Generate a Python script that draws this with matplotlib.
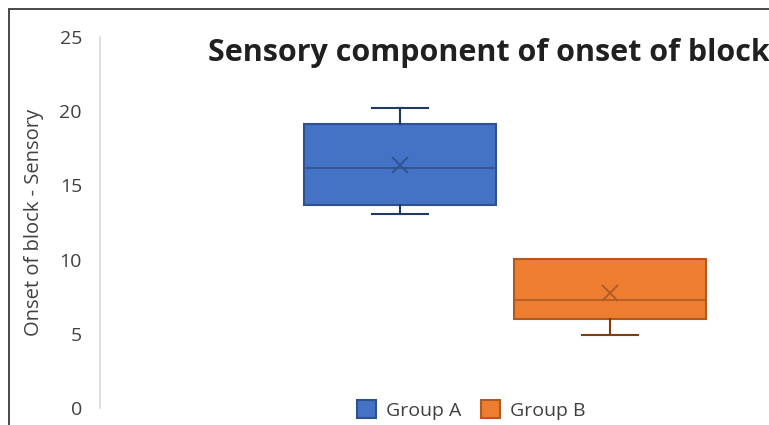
import matplotlib.pyplot as plt
from matplotlib.patches import Rectangle

plt.rcParams['font.family'] = ['Open Sans', 'DejaVu Sans']

groups = ['Group A', 'Group B']
whisker_lo = [13.1, 4.9]
q1 = [13.7, 6.0]
median = [16.15, 7.3]
q3 = [19.15, 10.05]
whisker_hi = [20.2, 10.05]
mean = [16.35, 7.75]

face = ['#4472C4', '#ED7D31']
edge = ['#2F528F', '#AE5A21']
dark = ['#203864', '#843C0C']

fig = plt.figure(figsize=(7.69, 4.25), dpi=100)
ax = fig.add_axes([100 / 769, 17 / 425, 1 - 100 / 769, (408 - 37) / 425])

for i, g in enumerate(groups):
    stats = [dict(label=g, whislo=whisker_lo[i], q1=q1[i], med=median[i],
                  q3=q3[i], whishi=whisker_hi[i], mean=mean[i])]
    parts = ax.bxp(stats, positions=[i + 1], widths=0.91, capwidths=0.27,
                   showmeans=True, showfliers=False, patch_artist=True,
                   boxprops=dict(facecolor=face[i], edgecolor=edge[i], linewidth=1.5),
                   medianprops=dict(color=edge[i], linewidth=1.2),
                   whiskerprops=dict(color=dark[i], linewidth=1.5),
                   capprops=dict(color=dark[i], linewidth=1.5),
                   meanprops=dict(marker='x', markeredgecolor=edge[i], markersize=12,
                                  markeredgewidth=1.3))
    # no whisker when the max sits on the box edge
    if whisker_hi[i] <= q3[i]:
        parts['caps'][1].set_visible(False)
        parts['whiskers'][1].set_visible(False)

ax.set_xlim(1 - 300 / 210, 2 + 159 / 210)
ax.set_ylim(0, 25)
ax.set_yticks([0, 5, 10, 15, 20, 25])
ax.set_xticks([])
ax.tick_params(axis='y', length=0, labelsize=14, labelcolor='#404040', pad=13)
for s in ['top', 'right', 'bottom']:
    ax.spines[s].set_visible(False)
ax.spines['left'].set_color('#D9D9D9')
ax.spines['left'].set_linewidth(1.2)
ax.set_ylabel('Onset of block - Sensory', fontsize=14.5, color='#404040', labelpad=11)

fig.text(208 / 769, 1 - 53 / 425, 'Sensory component of onset of block',
         fontsize=22, fontweight='bold', color='#202020', va='center', ha='left')

handles = [Rectangle((0, 0), 1, 1, facecolor=face[i], edgecolor=edge[i], linewidth=1.5)
           for i in range(2)]
fig.legend(handles, groups, loc='center', bbox_to_anchor=(471 / 769, 1 - 410 / 425),
           ncol=2, frameon=False, fontsize=14, handlelength=1.0, handleheight=1.0,
           handletextpad=0.5, columnspacing=1.0, labelcolor='#404040',
           borderpad=0, borderaxespad=0)

# outer frame of the chart area
fig.add_artist(Rectangle((9 / 769, -0.1), 1.2, 1 - 9 / 425 + 0.1, transform=fig.transFigure,
                         fill=False, edgecolor='#3a3a3a', linewidth=1.3))

fig.savefig('out.png', dpi=100)
